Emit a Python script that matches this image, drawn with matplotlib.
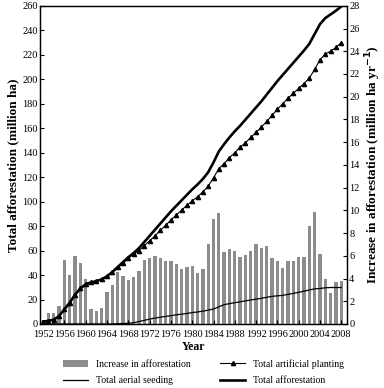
import numpy as np
import matplotlib
matplotlib.use("Agg")
import matplotlib.pyplot as plt

plt.rcParams['font.family'] = ['Liberation Serif', 'DejaVu Serif']

years = list(range(1952, 2009))

# annual increase in afforestation (million ha per yr), right axis
increase = [0.2, 1.0, 1.0, 1.6, 5.6, 4.3, 6.0, 5.4, 4.0, 1.3,
            1.15, 1.45, 2.85, 3.4, 4.6, 4.2, 3.9, 4.1, 4.7, 5.6,
            5.8, 5.95, 5.8, 5.5, 5.5, 5.3, 4.8, 5.0, 5.1, 4.5,
            4.8, 7.0, 9.2, 9.8, 6.35, 6.6, 6.45, 5.9, 6.1, 6.45,
            7.0, 6.7, 6.85, 5.8, 5.5, 4.95, 5.5, 5.5, 5.9, 5.9,
            8.6, 9.85, 6.15, 4.0, 2.7, 3.7, 3.8]

# cumulative totals (million ha), left axis
total_afforestation = [2.0, 2.5, 3.5, 6.5, 12, 17.5, 24, 29, 32.5, 34,
                       35, 36.5, 39, 42.5, 46.5, 50.5, 54.5, 58, 62, 67,
                       72, 77, 82, 87, 92, 96.5, 101, 105.5, 110, 114,
                       118.5, 124, 132, 141, 147, 152.5, 157.5, 162, 167, 172,
                       177, 182, 187.5, 193, 198.5, 203.5, 208.5, 213.5, 218.5, 223.5,
                       229, 237, 245, 250, 253, 256, 259.5]

artificial_planting = [2.0, 2.5, 3.5, 6.5, 12, 17.5, 24, 29, 32.5, 34,
                       35, 36.5, 39, 42.5, 46.3, 50, 54, 57, 60, 64,
                       68, 72, 76.5, 80.5, 85, 89, 93, 97, 100.5, 104,
                       108, 112.5, 119.5, 127, 131, 136, 140, 144.5, 148, 152.5,
                       156.5, 161, 165.5, 170.5, 175.5, 180, 184.5, 188.5, 192.5, 196.5,
                       201, 208, 216, 220.5, 223, 226, 230]

aerial_seeding = [0, 0, 0, 0, 0, 0, 0, 0, 0, 0,
                  0, 0, 0, 0, 0.2, 0.4, 0.6, 1.0, 2.0, 3.0,
                  4.0, 4.8, 5.5, 6.2, 6.8, 7.5, 8.0, 8.6, 9.3, 9.8,
                  10.5, 11.3, 12.2, 14.0, 15.8, 16.6, 17.4, 18.1, 18.9, 19.6,
                  20.3, 21.0, 21.8, 22.6, 23.0, 23.4, 24.2, 25.0, 25.9, 26.8,
                  27.8, 28.7, 29.0, 29.6, 29.8, 29.8, 29.8]

fig = plt.figure(figsize=(3.84, 3.88), dpi=100)
ax = fig.add_axes([0.104, 0.165, 0.800, 0.820])
ax2 = ax.twinx()

bars = ax2.bar(years, increase, width=0.62, color='#8c8c8c', zorder=1,
               label='Increase in afforestation')
ax2.set_ylim(0, 28)
ax2.set_yticks(range(0, 29, 2))

# draw lines on top of bars
ax.set_zorder(ax2.get_zorder() + 1)
ax.patch.set_visible(False)

l_aer, = ax.plot(years, aerial_seeding, color='black', lw=0.9,
                 label='Total aerial seeding')
l_art, = ax.plot(years, artificial_planting, color='black', lw=0.8,
                 marker='^', markersize=3.0, label='Total artificial planting')
l_tot, = ax.plot(years, total_afforestation, color='black', lw=1.9,
                 label='Total afforestation')

ax.set_xlim(1951.4, 2009.1)
ax.set_ylim(0, 260)
ax.set_yticks(range(0, 261, 20))
ax.set_xticks(range(1952, 2009, 4))

for a in (ax, ax2):
    a.tick_params(direction='in', length=3, width=0.8, labelsize=7.5, pad=1.5)
    for s in a.spines.values():
        s.set_linewidth(0.9)
ax.tick_params(axis='x', pad=4)

ax.set_xlabel('Year', fontsize=8.5, fontweight='bold', labelpad=2)
ax.set_ylabel('Total afforestation (million ha)', fontsize=9.5,
              fontweight='bold', labelpad=2)
ax2.set_ylabel('Increase in afforestation (million ha yr$^{\\mathbf{-1}}$)',
               fontsize=9.5, fontweight='bold', labelpad=3)

fig.legend([bars, l_aer, l_art, l_tot],
           ['Increase in afforestation', 'Total aerial seeding',
            'Total artificial planting', 'Total afforestation'],
           ncol=2, loc='lower center', bbox_to_anchor=(0.53, -0.015),
           frameon=False, fontsize=7, handlelength=2.6, columnspacing=3,
           labelspacing=0.75)

fig.savefig('out.png', dpi=100)
